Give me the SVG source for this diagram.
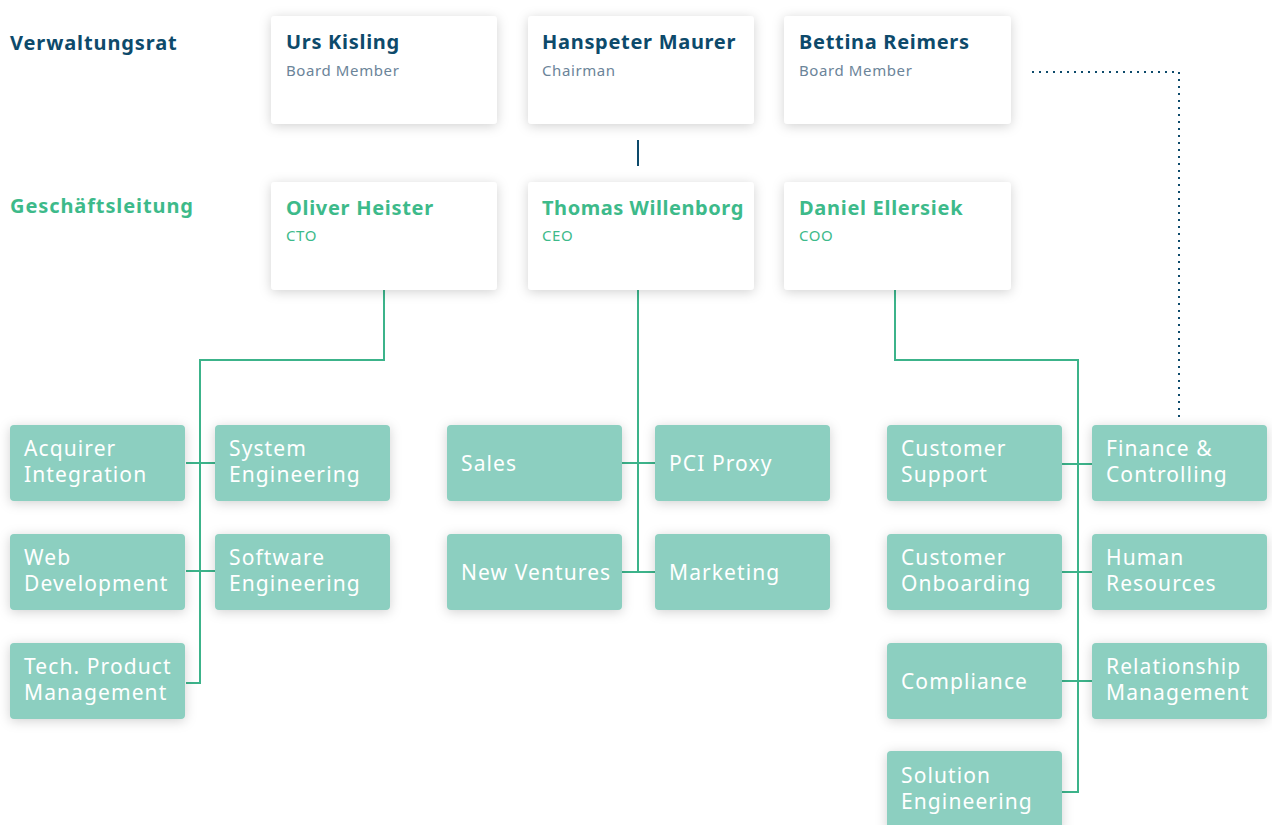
<svg xmlns="http://www.w3.org/2000/svg" width="1272" height="825" viewBox="0 0 1272 825">
<defs>
<filter id="sh" x="-20%" y="-30%" width="140%" height="160%">
<feDropShadow dx="0" dy="2" stdDeviation="6" flood-color="#000" flood-opacity="0.18"/>
</filter>
<style>
.card{fill:#fff;filter:url(#sh)}
.box{fill:#8ccfc0;filter:url(#sh)}
.hd{font-family:"Noto Sans",sans-serif;font-weight:700;font-size:20px;letter-spacing:0.9px}
.nm{font-family:"Noto Sans",sans-serif;font-weight:700;font-size:20px;letter-spacing:0.7px}
.sub{font-family:"Noto Sans",sans-serif;font-size:15px;letter-spacing:0.6px}
.blue{fill:#0d4a6b}
.green{fill:#3dba8a}
.grey{fill:#6b8499}
.bt{font-family:"Noto Sans",sans-serif;font-size:21px;fill:#fff;letter-spacing:1.1px}
.ln{stroke:#3cb38a;stroke-width:2;fill:none}
</style>
</defs>
<rect width="1272" height="825" fill="#fff"/>
<text class="hd blue" x="10" y="50">Verwaltungsrat</text>
<text class="hd green" x="10" y="213">Geschäftsleitung</text>

<g id="connectors">
<line x1="638" y1="140" x2="638" y2="166" stroke="#0d4a6b" stroke-width="2"/>
<polyline points="1032,72 1179,72 1179,422" fill="none" stroke="#0d4a6b" stroke-width="2" stroke-dasharray="2,5"/>
<polyline class="ln" points="384,290 384,360 200,360 200,683 186,683"/>
<line class="ln" x1="186" y1="463" x2="215" y2="463"/>
<line class="ln" x1="186" y1="571" x2="215" y2="571"/>
<line class="ln" x1="638" y1="290" x2="638" y2="572"/>
<line class="ln" x1="622" y1="463" x2="655" y2="463"/>
<line class="ln" x1="622" y1="572" x2="655" y2="572"/>
<polyline class="ln" points="895,290 895,360 1078,360 1078,792 1062,792"/>
<line class="ln" x1="1062" y1="464" x2="1092" y2="464"/>
<line class="ln" x1="1062" y1="572" x2="1092" y2="572"/>
<line class="ln" x1="1062" y1="681" x2="1092" y2="681"/>
</g>

<g id="urs"><rect class="card" x="271" y="16" width="226" height="108" rx="4"/><text class="nm blue" x="286" y="49">Urs Kisling</text><text class="sub grey" x="286" y="76">Board Member</text></g>
<g id="hanspeter"><rect class="card" x="528" y="16" width="226" height="108" rx="4"/><text class="nm blue" x="542" y="49">Hanspeter Maurer</text><text class="sub grey" x="542" y="76">Chairman</text></g>
<g id="bettina"><rect class="card" x="784" y="16" width="227" height="108" rx="4"/><text class="nm blue" x="799" y="49">Bettina Reimers</text><text class="sub grey" x="799" y="76">Board Member</text></g>

<g id="oliver"><rect class="card" x="271" y="182" width="226" height="108" rx="4"/><text class="nm green" x="286" y="215">Oliver Heister</text><text class="sub green" x="286" y="241">CTO</text></g>
<g id="thomas"><rect class="card" x="528" y="182" width="226" height="108" rx="4"/><text class="nm green" x="542" y="215" textLength="202" lengthAdjust="spacing">Thomas Willenborg</text><text class="sub green" x="542" y="241">CEO</text></g>
<g id="daniel"><rect class="card" x="784" y="182" width="227" height="108" rx="4"/><text class="nm green" x="799" y="215">Daniel Ellersiek</text><text class="sub green" x="799" y="241">COO</text></g>

<g id="acquirer"><rect class="box" x="10" y="425" width="175" height="76" rx="4"/><text class="bt" x="24" y="456">Acquirer</text><text class="bt" x="24" y="482">Integration</text></g>
<g id="system"><rect class="box" x="215" y="425" width="175" height="76" rx="4"/><text class="bt" x="229" y="456">System</text><text class="bt" x="229" y="482">Engineering</text></g>
<g id="web"><rect class="box" x="10" y="534" width="175" height="76" rx="4"/><text class="bt" x="24" y="565">Web</text><text class="bt" x="24" y="591">Development</text></g>
<g id="software"><rect class="box" x="215" y="534" width="175" height="76" rx="4"/><text class="bt" x="229" y="565">Software</text><text class="bt" x="229" y="591">Engineering</text></g>
<g id="tech"><rect class="box" x="10" y="643" width="175" height="76" rx="4"/><text class="bt" x="24" y="674">Tech. Product</text><text class="bt" x="24" y="700">Management</text></g>

<g id="sales"><rect class="box" x="447" y="425" width="175" height="76" rx="4"/><text class="bt" x="461" y="471">Sales</text></g>
<g id="pci"><rect class="box" x="655" y="425" width="175" height="76" rx="4"/><text class="bt" x="669" y="471">PCI Proxy</text></g>
<g id="ventures"><rect class="box" x="447" y="534" width="175" height="76" rx="4"/><text class="bt" x="461" y="580">New Ventures</text></g>
<g id="marketing"><rect class="box" x="655" y="534" width="175" height="76" rx="4"/><text class="bt" x="669" y="580">Marketing</text></g>

<g id="support"><rect class="box" x="887" y="425" width="175" height="76" rx="4"/><text class="bt" x="901" y="456">Customer</text><text class="bt" x="901" y="482">Support</text></g>
<g id="finance"><rect class="box" x="1092" y="425" width="175" height="76" rx="4"/><text class="bt" x="1106" y="456">Finance &amp;</text><text class="bt" x="1106" y="482">Controlling</text></g>
<g id="onboarding"><rect class="box" x="887" y="534" width="175" height="76" rx="4"/><text class="bt" x="901" y="565">Customer</text><text class="bt" x="901" y="591">Onboarding</text></g>
<g id="hr"><rect class="box" x="1092" y="534" width="175" height="76" rx="4"/><text class="bt" x="1106" y="565">Human</text><text class="bt" x="1106" y="591">Resources</text></g>
<g id="compliance"><rect class="box" x="887" y="643" width="175" height="76" rx="4"/><text class="bt" x="901" y="689">Compliance</text></g>
<g id="relationship"><rect class="box" x="1092" y="643" width="175" height="76" rx="4"/><text class="bt" x="1106" y="674">Relationship</text><text class="bt" x="1106" y="700">Management</text></g>
<g id="solution"><rect class="box" x="887" y="751" width="175" height="80" rx="4"/><text class="bt" x="901" y="783">Solution</text><text class="bt" x="901" y="809">Engineering</text></g>
</svg>
